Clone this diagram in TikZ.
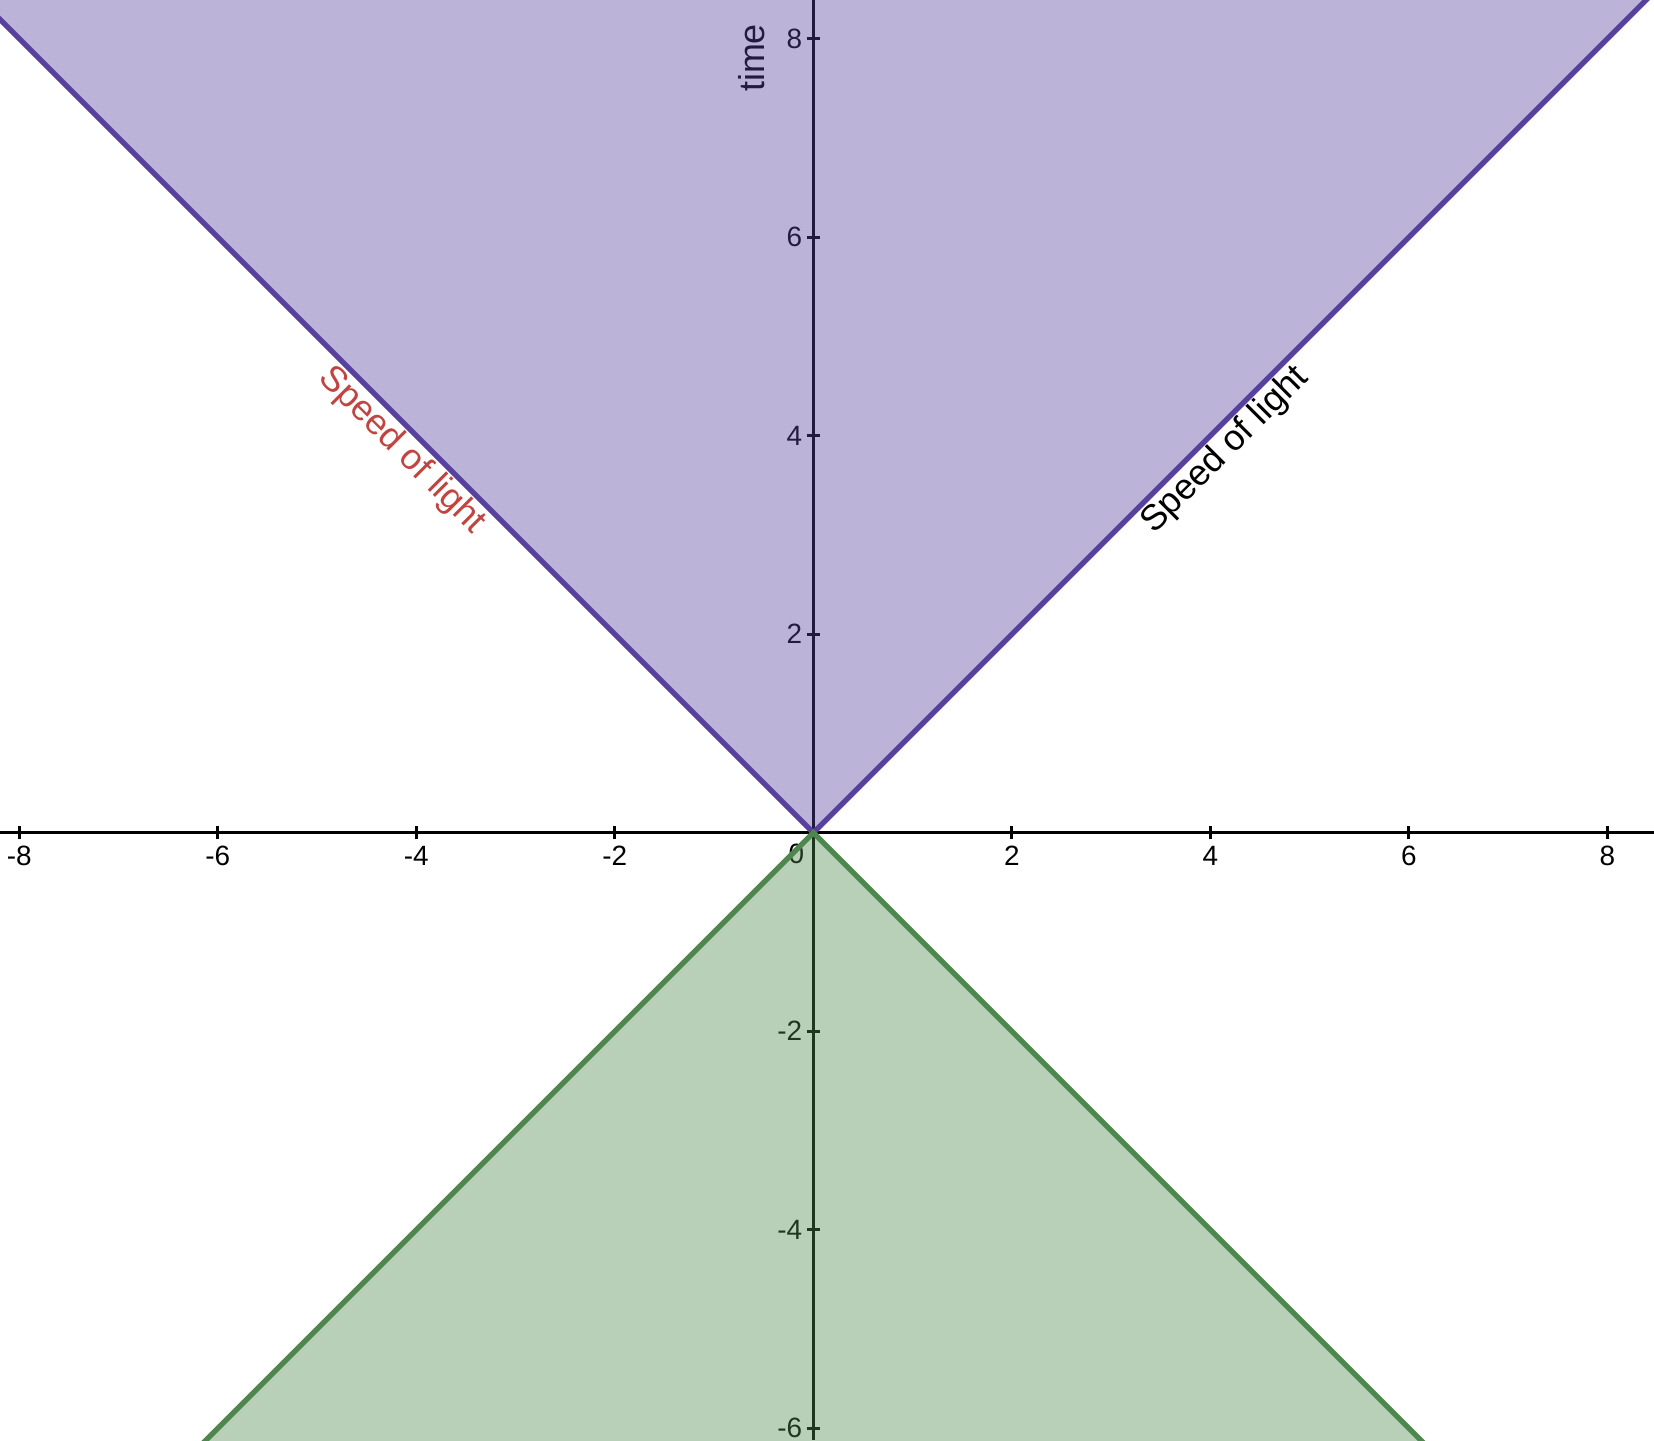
\documentclass[tikz,border=0pt]{standalone}
\usepackage{fontspec}
\setmainfont{Liberation Sans}
\usetikzlibrary{positioning}
\definecolor{conepurple}{RGB}{88,65,158}
\definecolor{conegreen}{RGB}{78,135,78}
\definecolor{lightred}{RGB}{192,68,64}

\begin{document}
\begin{tikzpicture}[
  axisline/.style={line width=0.8pt, black},
  tickmark/.style={line width=0.8pt, black},
  ticklabel/.style={font=\fontsize{8}{9}\selectfont, inner sep=0pt},
  conefill/.style={fill opacity=0.4, draw=none},
  coneline/.style={line width=1.5pt, line join=miter},
  lightlabel/.style={font=\fontsize{10.3}{12}\selectfont, inner sep=1pt},
]

\useasboundingbox (-8.195,-6.119) rectangle (8.470,8.390);
\clip (-8.195,-6.119) rectangle (8.470,8.390);

\coordinate (O)  at (0,0);
\coordinate (xl) at (-8.195,0);
\coordinate (xr) at (8.470,0);
\coordinate (yb) at (0,-6.119);
\coordinate (yt) at (0,8.390);
\coordinate (ul) at (-9,9);
\coordinate (ur) at (9,9);
\coordinate (ll) at (-7,-7);
\coordinate (lr) at (7,-7);

% axes and ticks
\draw[axisline] (xl) -- (xr);
\draw[axisline] (yb) -- (yt);
\foreach \x [count=\i] in {-8,-6,-4,-2,2,4,6,8} {
  \draw[tickmark] (\x,-0.067) -- (\x,0.067);
  \node[ticklabel, anchor=north] (xt\i) at (\x,-0.125) {\x};
}
\foreach \y [count=\i] in {-6,-4,-2,2,4,6,8} {
  \draw[tickmark] (-0.067,\y) -- (0.067,\y);
  \node[ticklabel, anchor=east] (yt\i) at (-0.105,\y) {\y};
}
\node[ticklabel, anchor=north] (zero) at (-0.17,-0.11) {0};
\node[lightlabel, rotate=90] (time) at (-0.618,7.806) {time};

% labels along the light lines
\node[lightlabel, lightred, rotate=-45, anchor=north] (leftlight)  at (-4,4) {Speed of light};
\node[lightlabel, black, rotate=45, anchor=north]     (rightlight) at (4,4)  {Speed of light};

% future and past cones
\fill[conefill, conepurple] (ul) -- (O) -- (ur) -- cycle;
\fill[conefill, conegreen]  (ll) -- (O) -- (lr) -- cycle;
\draw[coneline, conepurple] (ul) -- (O) -- (ur);
\draw[coneline, conegreen]  (ll) -- (O) -- (lr);

\end{tikzpicture}
\end{document}
